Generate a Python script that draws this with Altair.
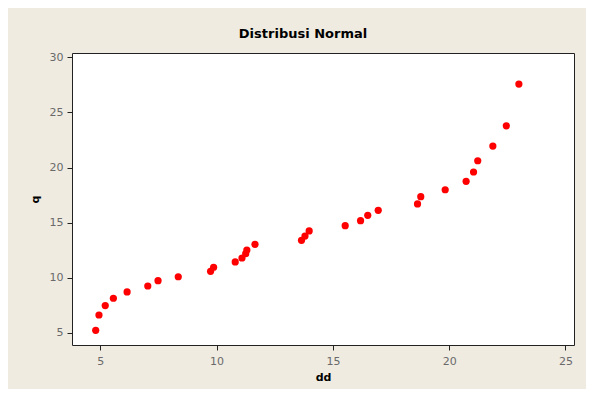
import altair as alt
import pandas as pd

dd = [4.80, 4.94, 5.21, 5.56, 6.15, 7.04, 7.48, 8.35, 9.74, 9.87,
      10.80, 11.09, 11.25, 11.30, 11.65, 13.65, 13.80, 13.98, 15.53, 16.19,
      16.50, 16.95, 18.64, 18.78, 19.83, 20.73, 21.05, 21.23, 21.88, 22.46, 23.00]
q = [5.24, 6.63, 7.49, 8.15, 8.72, 9.26, 9.74, 10.10, 10.59, 10.96,
     11.44, 11.80, 12.19, 12.52, 13.04, 13.40, 13.79, 14.25, 14.73, 15.18,
     15.67, 16.12, 16.70, 17.36, 17.99, 18.75, 19.60, 20.62, 21.95, 23.79, 27.57]
x_ticks = [5, 10, 15, 20, 25]
y_ticks = [5, 10, 15, 20, 25, 30]

df = pd.DataFrame({"dd": dd, "q": q})

axis_common = dict(
    labelColor="#6a6a6a", labelFont="DejaVu Sans", labelFontSize=11,
    titleColor="#000000", titleFont="DejaVu Sans", titleFontSize=11, titleFontWeight="bold",
    tickColor="#222222", tickSize=5, domain=False, grid=False,
)

chart = alt.Chart(df).mark_circle(size=52, color="#ff0000", opacity=1).encode(
    x=alt.X("dd:Q", title="dd",
            scale=alt.Scale(domain=[3.78, 25.37], nice=False, zero=False),
            axis=alt.Axis(values=x_ticks, labelPadding=5, titlePadding=5, **axis_common)),
    y=alt.Y("q:Q", title="q",
            scale=alt.Scale(domain=[3.91, 30.39], nice=False, zero=False),
            axis=alt.Axis(values=y_ticks, labelPadding=4, titlePadding=9, **axis_common)),
).properties(
    width=502, height=292,
    title=alt.TitleParams("Distribusi Normal", font="DejaVu Sans", fontSize=13,
                          fontWeight="bold", color="#000000", anchor="middle",
                          dx=-20, offset=10),
    background="#EFEBE1",
    padding={"left": 64, "top": 45, "right": 12, "bottom": 44},
    autosize=alt.AutoSizeParams(type="none"),
).configure_view(stroke="#222222", strokeWidth=1, fill="#ffffff")

chart.save("out.html", embed_options={"renderer": "svg", "actions": False})
